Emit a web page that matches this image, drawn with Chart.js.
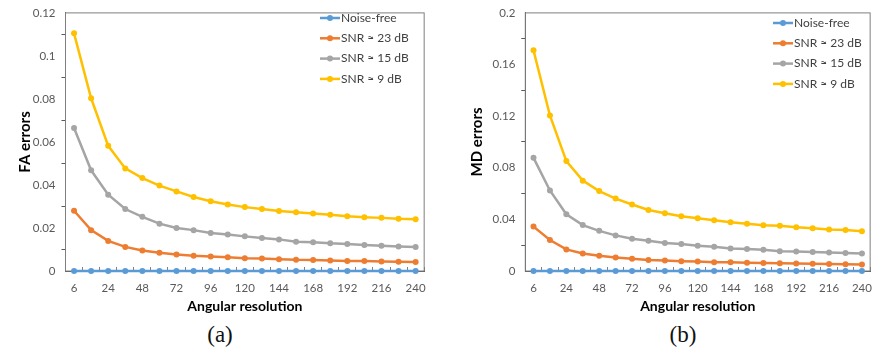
<!DOCTYPE html>
<html>
<head>
<meta charset="utf-8">
<script src="https://cdn.jsdelivr.net/npm/chart.js@4.4.1/dist/chart.umd.min.js"></script>
<style>
  body { margin: 0; background: #ffffff; width: 881px; height: 351px; overflow: hidden; position: relative; }
  .panel { position: absolute; top: 0; }
  .caption { position: absolute; top: 322px; width: 60px; text-align: center; font-family: "Liberation Serif", serif; font-size: 23px; color: #111; }
</style>
</head>
<body>
<div class="panel" style="left:0px"><canvas id="chartFA" width="440" height="315"></canvas></div>
<div class="panel" style="left:440px"><canvas id="chartMD" width="446" height="315"></canvas></div>
<div class="caption" style="left:190px">(a)</div>
<div class="caption" style="left:653px">(b)</div>
<script>
// angular resolution (x categories)
var resolution = [6, 12, 24, 36, 48, 60, 72, 84, 96, 108, 120, 132, 144, 156, 168, 180, 192, 204, 216, 228, 240];
var seriesNames = ['Noise-free', 'SNR \u2248 23 dB', 'SNR \u2248 15 dB', 'SNR \u2248 9 dB'];
var seriesColors = ['#5B9BD5', '#ED7D31', '#A5A5A5', '#FFC000'];

// FA errors (panel a)
var faNoiseFree = [0, 0, 0, 0, 0, 0, 0, 0, 0, 0, 0, 0, 0, 0, 0, 0, 0, 0, 0, 0, 0];
var fa23 = [0.0280, 0.0190, 0.0140, 0.0112, 0.0095, 0.0085, 0.0077, 0.0071, 0.0067, 0.0064, 0.0059, 0.0058, 0.0055, 0.0052, 0.0051, 0.0049, 0.0047, 0.0046, 0.0044, 0.0043, 0.0042];
var fa15 = [0.0665, 0.0468, 0.0355, 0.0288, 0.0252, 0.0220, 0.0200, 0.0190, 0.0177, 0.0170, 0.0161, 0.0153, 0.0147, 0.0136, 0.0134, 0.0129, 0.0126, 0.0121, 0.0117, 0.0114, 0.0112];
var fa9 = [0.1105, 0.0803, 0.0582, 0.0477, 0.0432, 0.0397, 0.0370, 0.0344, 0.0324, 0.0309, 0.0297, 0.0288, 0.0279, 0.0273, 0.0267, 0.0261, 0.0255, 0.0250, 0.0247, 0.0243, 0.0241];

// MD errors (panel b)
var mdNoiseFree = [0, 0, 0, 0, 0, 0, 0, 0, 0, 0, 0, 0, 0, 0, 0, 0, 0, 0, 0, 0, 0];
var md23 = [0.0344, 0.0240, 0.0167, 0.0136, 0.0119, 0.0104, 0.0094, 0.0086, 0.0081, 0.0076, 0.0073, 0.0068, 0.0067, 0.0064, 0.0062, 0.0060, 0.0058, 0.0057, 0.0055, 0.0053, 0.0051];
var md15 = [0.0877, 0.0624, 0.0440, 0.0356, 0.0311, 0.0276, 0.0250, 0.0235, 0.0217, 0.0210, 0.0195, 0.0187, 0.0174, 0.0170, 0.0164, 0.0154, 0.0152, 0.0147, 0.0144, 0.0139, 0.0136];
var md9 = [0.1710, 0.1205, 0.0852, 0.0700, 0.0619, 0.0561, 0.0515, 0.0473, 0.0447, 0.0424, 0.0409, 0.0394, 0.0377, 0.0367, 0.0354, 0.0351, 0.0339, 0.0331, 0.0321, 0.0318, 0.0308];

var axisFont = "Lato, 'Open Sans', sans-serif";

// frame around the plot area, drawn before the lines
var frameBox = {
    id: 'frameBox',
    beforeDatasetsDraw: function (chart) {
        var a = chart.chartArea;
        var ctx = chart.ctx;
        ctx.save();
        ctx.strokeStyle = '#7F7F7F';
        ctx.lineWidth = 1;
        ctx.strokeRect(a.left, a.top, a.right - a.left, a.bottom - a.top);
        ctx.restore();
    }
};

// excel-like legend sitting inside the plot area
var insideLegend = {
    id: 'insideLegend',
    afterDraw: function (chart, args, opts) {
        var ctx = chart.ctx;
        var sets = chart.data.datasets;
        ctx.save();
        ctx.font = '12px ' + axisFont;
        ctx.textBaseline = 'middle';
        for (var i = 0; i < sets.length; i++) {
            var y = opts.y + i * 20.3;
            ctx.strokeStyle = sets[i].borderColor;
            ctx.lineWidth = 2.5;
            ctx.beginPath();
            ctx.moveTo(opts.x, y);
            ctx.lineTo(opts.x + 20, y);
            ctx.stroke();
            ctx.fillStyle = sets[i].borderColor;
            ctx.beginPath();
            ctx.arc(opts.x + 10, y, 3, 0, Math.PI * 2);
            ctx.fill();
            ctx.fillStyle = '#404040';
            ctx.fillText(sets[i].label, opts.x + 21, y);
        }
        ctx.restore();
    }
};

function makeSets(values) {
    var sets = [];
    for (var i = 0; i < values.length; i++) {
        sets.push({
            label: seriesNames[i],
            data: values[i],
            borderColor: seriesColors[i],
            backgroundColor: seriesColors[i],
            borderWidth: 2.5,
            pointRadius: 3,
            pointBorderWidth: 0,
            pointHoverRadius: 3,
            tension: 0,
            clip: false,
            order: values.length - i
        });
    }
    return sets;
}

function drawPanel(canvasId, values, yTitle, yMax, yStep, yWidth, padRight, titlePad, legendPos) {
    var canvas = document.getElementById(canvasId);
    return new Chart(canvas, {
        type: 'line',
        data: { labels: resolution, datasets: makeSets(values) },
        plugins: [frameBox, insideLegend],
        options: {
            responsive: false,
            animation: false,
            layout: { padding: { top: 7, right: padRight, left: 0, bottom: 0 } },
            plugins: {
                legend: { display: false },
                tooltip: { enabled: false },
                insideLegend: legendPos
            },
            scales: {
                x: {
                    type: 'category',
                    offset: true,
                    afterFit: function (scale) { scale.height = 44; },
                    grid: { drawOnChartArea: false, offset: true, tickLength: -4, color: '#7F7F7F' },
                    border: { color: '#595959', width: 1 },
                    ticks: {
                        autoSkip: false,
                        maxRotation: 0,
                        padding: 14,
                        color: '#595959',
                        font: { family: axisFont, size: 11.5 },
                        callback: function (val, idx) {
                            return idx % 2 === 0 ? this.getLabelForValue(val) : '';
                        }
                    },
                    title: {
                        display: true,
                        text: 'Angular resolution',
                        color: '#000000',
                        font: { family: axisFont, size: 14, weight: 'bold' },
                        padding: { top: 4, bottom: 0 }
                    }
                },
                y: {
                    min: 0,
                    max: yMax,
                    afterFit: function (scale) { scale.width = yWidth; },
                    grid: {
                        drawOnChartArea: false,
                        tickLength: 4,
                        tickColor: function (c) { return c.index % 2 ? '#595959' : 'rgba(0,0,0,0)'; }
                    },
                    border: { color: '#595959', width: 1 },
                    ticks: {
                        stepSize: yStep,
                        autoSkip: false,
                        padding: 6,
                        color: '#595959',
                        font: { family: axisFont, size: 11.5 },
                        callback: function (v, idx) {
                            return idx % 2 === 0 ? String(+v.toFixed(2)) : '';
                        }
                    },
                    title: {
                        display: true,
                        text: yTitle,
                        color: '#000000',
                        font: { family: axisFont, size: 15, weight: 'bold' },
                        padding: { top: titlePad, bottom: 0 }
                    }
                }
            }
        }
    });
}

drawPanel('chartFA', [faNoiseFree, fa23, fa15, fa9], 'FA errors', 0.12, 0.01, 65.5, 15.5, 16, { x: 320, y: 18 });
drawPanel('chartMD', [mdNoiseFree, md23, md15, md9], 'MD errors', 0.2, 0.02, 85.3, 1.5, 28.5, { x: 333, y: 23 });
</script>
</body>
</html>
